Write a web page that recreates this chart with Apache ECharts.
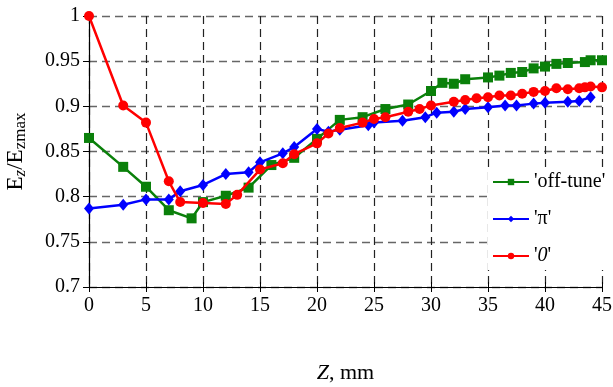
<!DOCTYPE html>
<html>
<head>
<meta charset="utf-8">
<script src="https://cdn.jsdelivr.net/npm/echarts@6/dist/echarts.min.js"></script>
<style>
  html, body { margin: 0; padding: 0; background: #fff; }
  #chart { width: 613px; height: 387px; }
</style>
</head>
<body>
<div id="chart"></div>
<script>
// Z positions (mm) and normalised Ez for each mode
const zOffTune = [0, 3, 5, 7, 9, 10, 12, 14, 16, 18, 20, 22, 24, 26, 28, 30, 31, 32, 33, 35, 36, 37, 38, 39, 40, 41, 42, 43.5, 44, 45];
const eOffTune = [0.865, 0.833, 0.811, 0.785, 0.776, 0.794, 0.801, 0.810, 0.835, 0.843, 0.864, 0.885, 0.888, 0.897, 0.902, 0.917, 0.926, 0.925, 0.930, 0.932, 0.934, 0.937, 0.938, 0.942, 0.944, 0.947, 0.948, 0.949, 0.951, 0.951];

const zPi = [0, 3, 5, 7, 8, 10, 12, 14, 15, 17, 18, 20, 21, 22, 24.5, 25, 27.5, 29.5, 30.5, 32, 33, 35, 36.5, 37.5, 39, 40, 42, 43, 44];
const ePi = [0.787, 0.791, 0.797, 0.797, 0.806, 0.813, 0.825, 0.827, 0.838, 0.848, 0.855, 0.875, 0.872, 0.874, 0.879, 0.882, 0.884, 0.888, 0.893, 0.894, 0.897, 0.899, 0.901, 0.901, 0.903, 0.904, 0.905, 0.906, 0.910];

const zZero = [0, 3, 5, 7, 8, 10, 12, 13, 15, 17, 18, 20, 21, 22, 24, 25, 26, 28, 29, 30, 32, 33, 34, 35, 36, 37, 38, 39, 40, 41, 42, 43, 43.5, 44, 45];
const eZero = [1.0, 0.901, 0.882, 0.817, 0.794, 0.793, 0.792, 0.802, 0.830, 0.837, 0.847, 0.859, 0.870, 0.876, 0.882, 0.886, 0.888, 0.894, 0.897, 0.901, 0.905, 0.907, 0.909, 0.910, 0.912, 0.912, 0.914, 0.916, 0.917, 0.920, 0.919, 0.920, 0.921, 0.922, 0.921];

const xTicks = { min: 0, max: 45, step: 5 };
const yTicks = { min: 0.7, max: 1, step: 0.05 };

const pairs = (xs, ys) => xs.map((x, i) => [x, ys[i]]);

const font = "Liberation Serif";
const txt = (extra) => Object.assign({ fontFamily: font, fontSize: 20, color: "#000" }, extra || {});
const plainRich = { n: txt(), i: txt({ fontStyle: "italic" }) };

const chart = echarts.init(document.getElementById("chart"));
chart.setOption({
  animation: false,
  textStyle: { fontFamily: font },
  grid: { left: 89, right: 11, top: 16, bottom: 100, containLabel: false, outerBoundsMode: "none" },
  legend: {
    orient: "vertical",
    left: 488,
    top: 168,
    itemWidth: 36,
    itemHeight: 8,
    itemGap: 17,
    padding: [4, 6, 4, 4],
    backgroundColor: "#fff",
    data: ["off-tune", "pi", "zero"],
    formatter: (name) => {
      if (name === "off-tune") return "{n|'off-tune'}";
      if (name === "pi") return "{n|'π'}";
      return "{n|'}{i|0}{n|'}";
    },
    textStyle: txt({ rich: plainRich })
  },
  xAxis: [
    {
      type: "value",
      min: xTicks.min,
      max: xTicks.max,
      interval: xTicks.step,
      name: "{i|Z}{n|, mm}",
      nameLocation: "middle",
      nameGap: 75,
      nameTextStyle: {
        rich: { n: txt({ fontSize: 22 }), i: txt({ fontSize: 22, fontStyle: "italic" }) }
      },
      axisLine: { lineStyle: { color: "#000", width: 1.2 } },
      axisTick: { length: 5, lineStyle: { color: "#000" } },
      axisLabel: txt({
        margin: 9,
        formatter: (v) => "{n|" + v + "}",
        rich: plainRich
      }),
      splitLine: { show: true, lineStyle: { color: "#222", width: 1.2, type: [8, 5] } }
    },
    {
      type: "value",
      position: "bottom",
      min: xTicks.min,
      max: xTicks.max,
      interval: xTicks.step,
      axisLine: { show: false },
      axisTick: { inside: true, length: 5, lineStyle: { color: "#000" } },
      axisLabel: { show: false },
      splitLine: { show: false }
    }
  ],
  yAxis: {
    type: "value",
    min: yTicks.min,
    max: yTicks.max,
    interval: yTicks.step,
    name: "{n|E}{s|z}{n|/E}{t|zmax}",
    nameLocation: "middle",
    nameRotate: 90,
    nameGap: 60,
    nameTextStyle: {
      rich: {
        n: txt({ fontSize: 23 }),
        s: txt({ fontSize: 17, fontStyle: "italic", padding: [9, 0, 0, 0] }),
        t: txt({ fontSize: 17, padding: [9, 0, 0, 0] })
      }
    },
    axisLine: { show: true, lineStyle: { color: "#000", width: 1.2 } },
    axisTick: { show: true, length: 6, lineStyle: { color: "#000" } },
    axisLabel: txt({
      margin: 9,
      formatter: (v) => "{n|" + String(+v.toFixed(2)) + "}",
      rich: plainRich
    }),
    splitLine: { show: true, lineStyle: { color: "#666", width: 1.3, type: [8, 5] } }
  },
  series: [
    {
      name: "off-tune",
      type: "line",
      data: pairs(zOffTune, eOffTune),
      symbol: "rect",
      symbolSize: 10,
      lineStyle: { color: "#0a800a", width: 2.5 },
      itemStyle: { color: "#0a800a" },
      z: 3
    },
    {
      name: "pi",
      type: "line",
      data: pairs(zPi, ePi),
      symbol: "diamond",
      symbolSize: [10, 12],
      lineStyle: { color: "#0000ff", width: 2.5 },
      itemStyle: { color: "#0000ff" },
      z: 4
    },
    {
      name: "zero",
      type: "line",
      data: pairs(zZero, eZero),
      symbol: "circle",
      symbolSize: 10,
      lineStyle: { color: "#ff0000", width: 2.5 },
      itemStyle: { color: "#ff0000" },
      z: 5
    }
  ]
});

window.addEventListener("resize", () => chart.resize());
</script>
</body>
</html>
